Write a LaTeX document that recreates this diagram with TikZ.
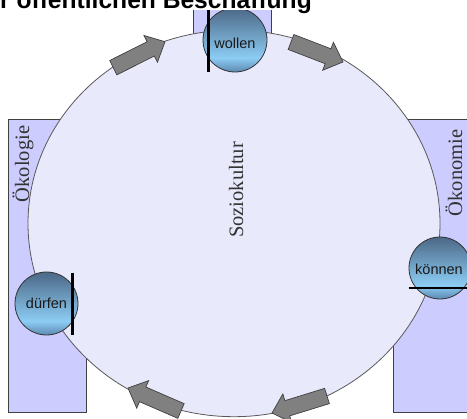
\documentclass[tikz,border=0pt]{standalone}
\usepackage{fontspec}
\setmainfont{Liberation Serif}
\newfontfamily\arialf{Liberation Sans}
\usetikzlibrary{calc}
\definecolor{rectfill}{RGB}{204,204,255}
\definecolor{ellfill}{RGB}{233,233,252}
\definecolor{arrfill}{RGB}{128,128,128}
\definecolor{balltop}{RGB}{76,104,134}
\definecolor{balllight}{RGB}{140,204,244}
\definecolor{ballbot}{RGB}{92,136,176}
\pgfdeclareverticalshading{ballshade}{100bp}{color(0bp)=(ballbot); color(25bp)=(ballbot); color(36bp)=(balllight); color(75bp)=(balltop); color(100bp)=(balltop)}
\tikzset{
  sidebox/.style={draw=black!75, fill=rectfill, line width=0.8pt},
  arrowst/.style={draw=black!75, fill=arrfill, line width=0.7pt, line join=miter},
  ball/.style={draw=black!80, line width=0.8pt, shading=ballshade},
  bar/.style={line width=2.6pt, black},
  serlab/.style={inner sep=0pt, font=\fontsize{20.5}{24}\selectfont, text=black!80},
  balllab/.style={inner sep=0pt, font=\arialf\fontsize{14.5}{17}\selectfont, text=black!90},
}
\newcommand\blockarr[2]{%
  \coordinate (#1b) at ($(#2)!16pt!(#1)$);
  \draw[arrowst] ($(#1)!8pt!90:(#2)$) -- ($(#1b)!8pt!90:(#2)$) -- ($(#1b)!15pt!90:(#2)$) -- (#2) -- ($(#1b)!15pt!-90:(#2)$) -- ($(#1b)!8pt!-90:(#2)$) -- ($(#1)!8pt!-90:(#2)$) -- cycle;}
\begin{document}
\begin{tikzpicture}[x=1pt,y=-1pt]
\useasboundingbox (0,0) rectangle (467,419);
% side boxes
\draw[sidebox] (193,0) rectangle (271,60);
\draw[sidebox] (8,119) rectangle (86,412);
\draw[sidebox] (393,119) rectangle (480,412);
% big ellipse
\draw[draw=black!65, fill=ellfill, line width=0.8pt] (234,223.4) ellipse [x radius=206pt, y radius=193.3pt];
% arrows
\coordinate (t1) at (113.3,67.7); \coordinate (h1) at (165,41.7);
\coordinate (t2) at (291,42);     \coordinate (h2) at (343,62);
\coordinate (t3) at (327,396);    \coordinate (h3) at (272,413);
\coordinate (t4) at (181,411);    \coordinate (h4) at (128,388);
\blockarr{t1}{h1}
\blockarr{t2}{h2}
\blockarr{t3}{h3}
\blockarr{t4}{h4}
% balls
\path[ball] (235,40) circle [radius=32pt];
\path[ball] (46.5,303.5) circle [radius=31.5pt];
\path[ball] (440,268) circle [radius=31pt];
\node[balllab] (wollen) at (235,43) {wollen};
\node[balllab] (duerfen) at (46.5,303) {dürfen};
\node[balllab] (koennen) at (439,269) {können};
% bars
\coordinate (w1) at (208.3,5); \coordinate (w2) at (208.3,72);
\coordinate (d1) at (72.7,272.7); \coordinate (d2) at (72.7,335);
\coordinate (k1) at (408.7,288); \coordinate (k2) at (470,288);
\draw[bar] (w1) -- (w2);
\draw[bar] (d1) -- (d2);
\draw[bar] (k1) -- (k2);
% labels
\node[serlab, rotate=90] (oekol) at (23,164) {Ökologie};
\node[serlab, rotate=90] (oekon) at (454,173) {Ökonomie};
\node[serlab, rotate=90] (sozio) at (236,190) {Soziokultur};
% title band
\fill[white] (-5,-5) rectangle (472,10);
\node[anchor=base east, inner sep=0pt, font=\arialf\bfseries\fontsize{24.6}{28}\selectfont] (title) at (312,9) {r öffentlichen Beschaffung};
\end{tikzpicture}
\end{document}
